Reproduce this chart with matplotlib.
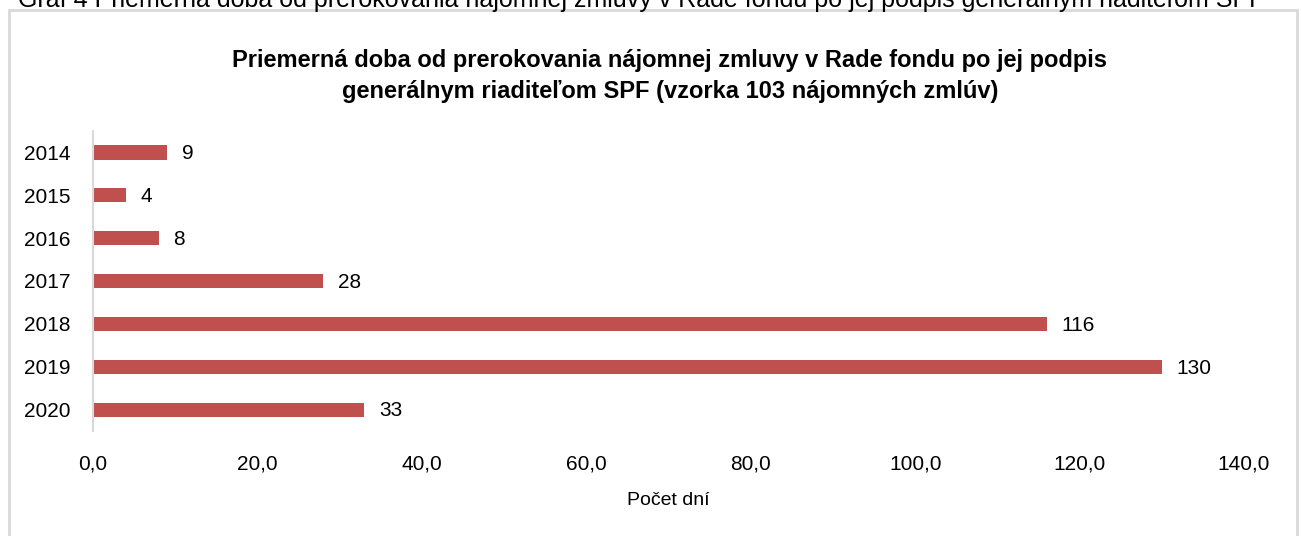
import matplotlib.pyplot as plt
from matplotlib.patches import Rectangle

plt.rcParams['font.family'] = ['Liberation Sans', 'DejaVu Sans']

years = ["2014", "2015", "2016", "2017", "2018", "2019", "2020"]
days = [9, 4, 8, 28, 116, 130, 33]
xticks = [0, 20, 40, 60, 80, 100, 120, 140]

caption = ("Graf 4 Priemerná doba od prerokovania nájomnej zmluvy v Rade fondu "
           "po jej podpis generálnym riaditeľom SPF")
title = ("Priemerná doba od prerokovania nájomnej zmluvy v Rade fondu po jej podpis\n"
         "generálnym riaditeľom SPF (vzorka 103 nájomných zmlúv)")

W, H = 1301, 536
fig = plt.figure(figsize=(W / 100, H / 100), dpi=100)

# outer frame of the chart area (bottom edge runs off the image)
fig.patches.append(Rectangle((9 / W, -0.05), (1297 - 9) / W, 1 - 10 / H + 0.05,
                             transform=fig.transFigure, fill=False,
                             edgecolor='#d9d9d9', linewidth=2))

# caption above the frame, partly cut off at the top like in the source
fig.text(18 / W, 1 - 7 / H, caption, fontsize=18, va='baseline', ha='left')

fig.text(670 / W, 1 - 76 / H, title, fontsize=17, fontweight='bold',
         ha='center', va='center', linespacing=1.4)

ax = fig.add_axes([93 / W, 1 - 431 / H, (1244 - 93) / W, (431 - 131) / H])
y = list(range(len(years)))
ax.barh(y, days, height=0.33, color='#c0504d')
for yi, v in zip(y, days):
    ax.text(v + 1.8, yi + 0.03, str(v), va='center', ha='left', fontsize=15)

ax.set_xlim(0, 140)
ax.set_ylim(len(years) - 0.5, -0.5)
ax.set_yticks(y)
ax.set_yticklabels(years, fontsize=15)
ax.set_xticks(xticks)
ax.set_xticklabels([f"{t:.1f}".replace('.', ',') for t in xticks], fontsize=15)
ax.tick_params(axis='both', length=0)
ax.tick_params(axis='x', pad=17)
ax.tick_params(axis='y', pad=16)
for s in ['top', 'right', 'bottom']:
    ax.spines[s].set_visible(False)
ax.spines['left'].set_color('#d9d9d9')
ax.spines['left'].set_linewidth(1.5)
ax.set_xlabel("Počet dní", fontsize=14, labelpad=13)

fig.savefig("out.png", dpi=100)
